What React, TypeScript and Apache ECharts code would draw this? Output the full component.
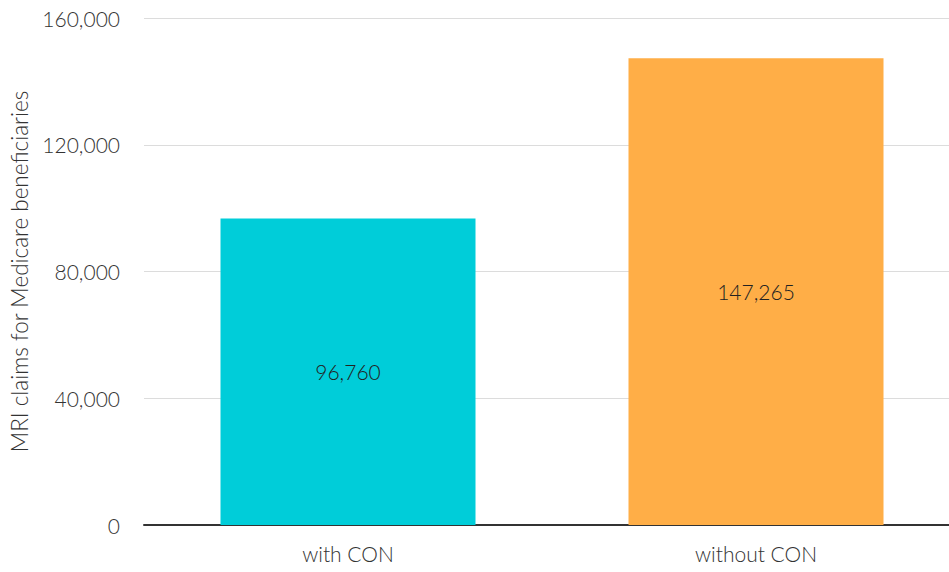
import React, { useEffect, useRef } from "react";
import * as echarts from "echarts";

const categories = ["with CON", "without CON"];
const values = [96760, 147265];
const colors = ["#00CDD9", "#FFAE47"];
const yTicks = [0, 40000, 80000, 120000, 160000];

export default function App() {
  const ref = useRef<HTMLDivElement>(null);
  useEffect(() => {
    const chart = echarts.init(ref.current!, null, { renderer: "svg" });
    chart.setOption({
      animation: false,
      grid: { left: 144, right: 0, top: 18, bottom: 47 },
      xAxis: {
        type: "category",
        data: categories,
        axisLine: { lineStyle: { color: "#333", width: 2 } },
        axisTick: { show: false },
        axisLabel: { fontFamily: "Lato", fontWeight: 300, fontSize: 21, color: "#333", margin: 18 },
      },
      yAxis: {
        type: "value",
        min: yTicks[0],
        max: yTicks[yTicks.length - 1],
        interval: 40000,
        name: "MRI claims for Medicare beneficiaries",
        nameLocation: "middle",
        nameGap: 109,
        nameTextStyle: { fontFamily: "Lato", fontWeight: 300, fontSize: 22.5, color: "#333" },
        axisLine: { show: false },
        axisTick: { show: false },
        splitLine: { lineStyle: { color: "#dcdcdc", width: 1 } },
        axisLabel: {
          fontFamily: "Lato",
          fontWeight: 300,
          fontSize: 21,
          color: "#333",
          margin: 24,
          formatter: (v: number) => v.toLocaleString("en-US"),
        },
      },
      series: [
        {
          type: "bar",
          barWidth: "62.5%",
          data: values.map((v, i) => ({ value: v, itemStyle: { color: colors[i] } })),
          label: {
            show: true,
            position: "inside",
            fontFamily: "Lato",
            fontWeight: 300,
            fontSize: 21,
            color: "#222",
            formatter: (p: any) => p.value.toLocaleString("en-US"),
          },
        },
      ],
    });
    return () => chart.dispose();
  }, []);
  return (
    <div style={{ position: "absolute", left: 0, top: 0, width: 949, height: 572, overflow: "hidden" }}>
      <div ref={ref} style={{ width: 960, height: 572 }} />
    </div>
  );
}
